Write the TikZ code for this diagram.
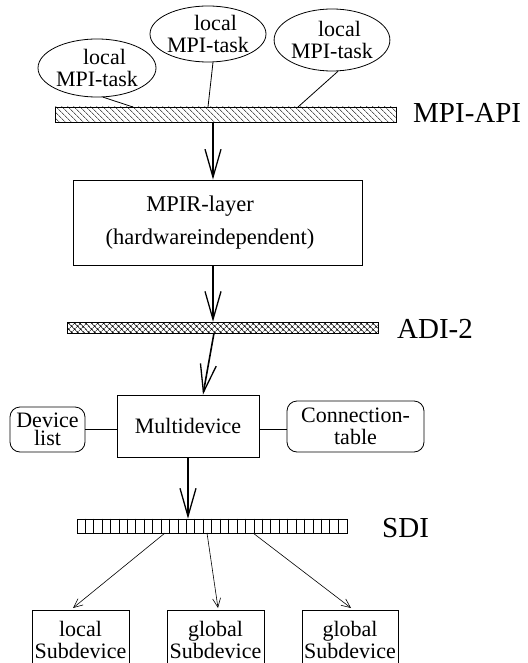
\documentclass[tikz,border=0pt]{standalone}
\usepackage{fontspec}
\setmainfont{Liberation Serif}
\usetikzlibrary{shapes.geometric,arrows.meta,patterns.meta,calc}
\newcommand{\padsp}[1]{\hbox to #1{}}
\begin{document}
\begin{tikzpicture}[x=1pt,y=-1pt,
  txt/.style={font=\fontsize{22}{22}\selectfont, align=center, inner sep=0pt},
  task/.style={ellipse, draw, line width=0.8pt, txt},
  box/.style={rectangle, draw, line width=0.8pt, txt},
  rbox/.style={rectangle, rounded corners=10pt, draw, line width=0.8pt, txt},
  lbl/.style={font=\fontsize{29}{29}\selectfont, anchor=base west, inner sep=0pt},
  bigarrow/.style={line width=1.6pt, -{Straight Barb[length=28pt,width=16pt,line width=1.3pt]}},
  smallarrow/.style={line width=0.6pt, -{Straight Barb[length=9pt,width=8pt,line width=0.6pt]}},
  link/.style={line width=0.8pt},
  bar/.style={draw, line width=0.7pt, inner sep=0pt},
]
\useasboundingbox (0,0) rectangle (527,663);
\clip (0,0) rectangle (527,663);

% MPI tasks
\node[task, minimum width=118pt, minimum height=58pt] (e1) at (97,68) {\padsp{15pt}local\\MPI-task};
\node[task, minimum width=116pt, minimum height=56pt] (e2) at (208,34) {\padsp{15pt}local\\MPI-task};
\node[task, minimum width=112pt, minimum height=62pt] (e3) at (332,40) {\padsp{15pt}local\\MPI-task};

% MPI-API bar
\node[bar, pattern={Lines[angle=-45,distance=4pt,line width=0.5pt]}, minimum width=341pt, minimum height=15pt] (api) at (225.5,114.5) {};
\node[lbl] (apil) at (413,123) {MPI-API};
\coordinate (a1) at (133,107);
\coordinate (a2) at (208,107);
\coordinate (a3) at (298,107);
\draw[link] (e1.-78) -- (a1);
\draw[link] (e2.-80) -- (a2);
\draw[link] (e3.-79) -- (a3);

% MPIR layer
\node[box, minimum width=289pt, minimum height=85pt, font=\fontsize{22.5}{33}\selectfont] (mpir) at (217.5,222.5) {MPIR-layer\padsp{35pt}\\(hardwareindependent)\padsp{15pt}};
\coordinate (s1) at (213,122);
\draw[bigarrow] (s1) -- (s1 |- mpir.north);

% ADI-2
\node[bar, pattern={Hatch[angle=45,distance=4pt,line width=0.5pt]}, minimum width=311pt, minimum height=11pt] (adi) at (222.5,327.5) {};
\node[lbl] (adil) at (397,338) {ADI-2};
\draw[bigarrow] (s1 |- mpir.south) -- (s1 |- adi.north);

% Multidevice
\node[box, minimum width=142pt, minimum height=62pt] (md) at (188,426) {Multidevice};
\node[rbox, minimum width=75pt, minimum height=45pt, font=\fontsize{22}{18}\selectfont] (dl) at (47.5,429.5) {Device\\list};
\node[rbox, minimum width=137pt, minimum height=51pt] (ct) at (355.5,426.5) {Connection-\\table};
\draw[link] (dl.east) -- (dl.east -| md.west);
\draw[link] (md.east |- dl.east) -- (ct.west |- dl.east);
\coordinate (s2) at (214,333);
\draw[bigarrow] (s2) -- ($(md.north)+(15,0)$);

% SDI
\node[bar, minimum width=270pt, minimum height=14pt] (sdi) at (212,526) {};
\foreach \i in {1,...,31} {
  \draw[line width=0.6pt] ($(sdi.north west)+(\i*8.4375,0)$) -- ($(sdi.south west)+(\i*8.4375,0)$);
}
\node[lbl] (sdil) at (382,537) {SDI};
\draw[bigarrow] (md.south) -- (md.south |- sdi.north);

% Subdevices
\node[box, anchor=north, minimum width=97pt, minimum height=60pt] (sd1) at (80.5,610) {local\\Subdevice};
\node[box, anchor=north, minimum width=97pt, minimum height=60pt] (sd2) at (215.5,610) {global\\Subdevice};
\node[box, anchor=north, minimum width=96pt, minimum height=60pt] (sd3) at (350,610) {global\\Subdevice};
\coordinate (b1) at (165,533);
\coordinate (b2) at (207,533);
\coordinate (b3) at (253,533);
\draw[smallarrow] (b1) -- ($(sd1.north)+(-7.5,-2)$);
\draw[smallarrow] (b2) -- ($(sd2.north)+(2.5,-2)$);
\draw[smallarrow] (b3) -- ($(sd3.north)+(1,-2)$);
\end{tikzpicture}
\end{document}
